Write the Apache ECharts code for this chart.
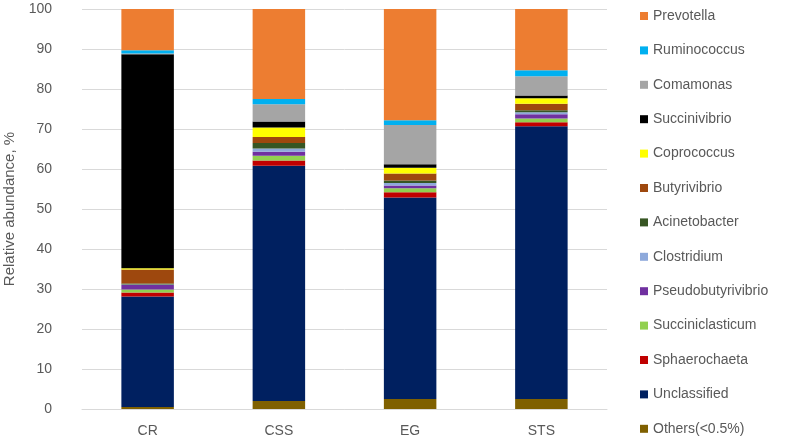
<!DOCTYPE html>
<html>
<head>
<meta charset="utf-8">
<script src="https://cdn.jsdelivr.net/npm/echarts@6/dist/echarts.min.js"></script>
<style>html,body{margin:0;padding:0;background:#fff}#c{width:787px;height:442px}</style>
</head>
<body>
<div id="c"></div>
<script>
const categories = ['CR', 'CSS', 'EG', 'STS'];
const yTicks = [0, 10, 20, 30, 40, 50, 60, 70, 80, 90, 100];

// bottom-to-top stacking order
const others             = [0.5, 2.0, 2.5, 2.5];
const unclassified       = [27.6, 58.8, 50.4, 68.2];
const sphaerochaeta      = [1.0, 1.3, 1.3, 1.0];
const succiniclasticum   = [0.8, 1.2, 1.0, 0.9];
const pseudobutyrivibrio = [1.1, 1.0, 0.7, 1.1];
const clostridium        = [0.1, 0.8, 0.6, 0.5];
const acinetobacter      = [0.3, 1.4, 0.6, 0.5];
const butyrivibrio       = [3.5, 1.5, 1.8, 1.6];
const coprococcus        = [0.3, 2.4, 1.4, 1.4];
const succinivibrio      = [53.5, 1.5, 0.9, 0.7];
const comamonas          = [0.2, 4.3, 9.8, 4.8];
const ruminococcus       = [0.8, 1.3, 1.2, 1.5];
const prevotella         = [10.3, 22.5, 27.8, 15.3];

const seriesDefs = [
  ['Others(<0.5%)', others, '#7F6000'],
  ['Unclassified', unclassified, '#002060'],
  ['Sphaerochaeta', sphaerochaeta, '#C00000'],
  ['Succiniclasticum', succiniclasticum, '#92D050'],
  ['Pseudobutyrivibrio', pseudobutyrivibrio, '#7030A0'],
  ['Clostridium', clostridium, '#8EA9DB'],
  ['Acinetobacter', acinetobacter, '#375623'],
  ['Butyrivibrio', butyrivibrio, '#9E480E'],
  ['Coprococcus', coprococcus, '#FFFF00'],
  ['Succinivibrio', succinivibrio, '#000000'],
  ['Comamonas', comamonas, '#A5A5A5'],
  ['Ruminococcus', ruminococcus, '#00B0F0'],
  ['Prevotella', prevotella, '#ED7D31']
];

const font = 'Liberation Sans';
const chart = echarts.init(document.getElementById('c'));
chart.setOption({
  animation: false,
  textStyle: { fontFamily: font },
  grid: { left: 82, right: 180, top: 9, bottom: 33, containLabel: false, outerBoundsMode: 'none' },
  legend: {
    orient: 'vertical',
    left: 640,
    top: 9,
    bottom: 0,
    padding: 0,
    itemWidth: 8,
    itemHeight: 8,
    itemGap: 20.4,
    icon: 'rect',
    data: seriesDefs.map(s => s[0]).reverse(),
    textStyle: { fontFamily: font, fontSize: 14, color: '#595959', lineHeight: 14 }
  },
  xAxis: {
    type: 'category',
    data: categories,
    axisLine: { lineStyle: { color: '#d9d9d9' } },
    axisTick: { show: false },
    axisLabel: { color: '#595959', fontSize: 14, margin: 15, fontFamily: font }
  },
  yAxis: {
    type: 'value',
    min: yTicks[0],
    max: yTicks[yTicks.length - 1],
    interval: 10,
    name: 'Relative abundance, %',
    nameLocation: 'middle',
    nameGap: 63,
    nameTextStyle: { color: '#595959', fontSize: 15, fontFamily: font },
    axisLine: { show: false },
    axisTick: { show: false },
    splitLine: { lineStyle: { color: '#d9d9d9' } },
    axisLabel: { color: '#595959', fontSize: 14, margin: 30, fontFamily: font }
  },
  series: seriesDefs.map(([name, data, color]) => ({
    name, type: 'bar', stack: 'total', data,
    barWidth: '40%',
    itemStyle: { color },
    emphasis: { disabled: true }
  }))
});
</script>
</body>
</html>
